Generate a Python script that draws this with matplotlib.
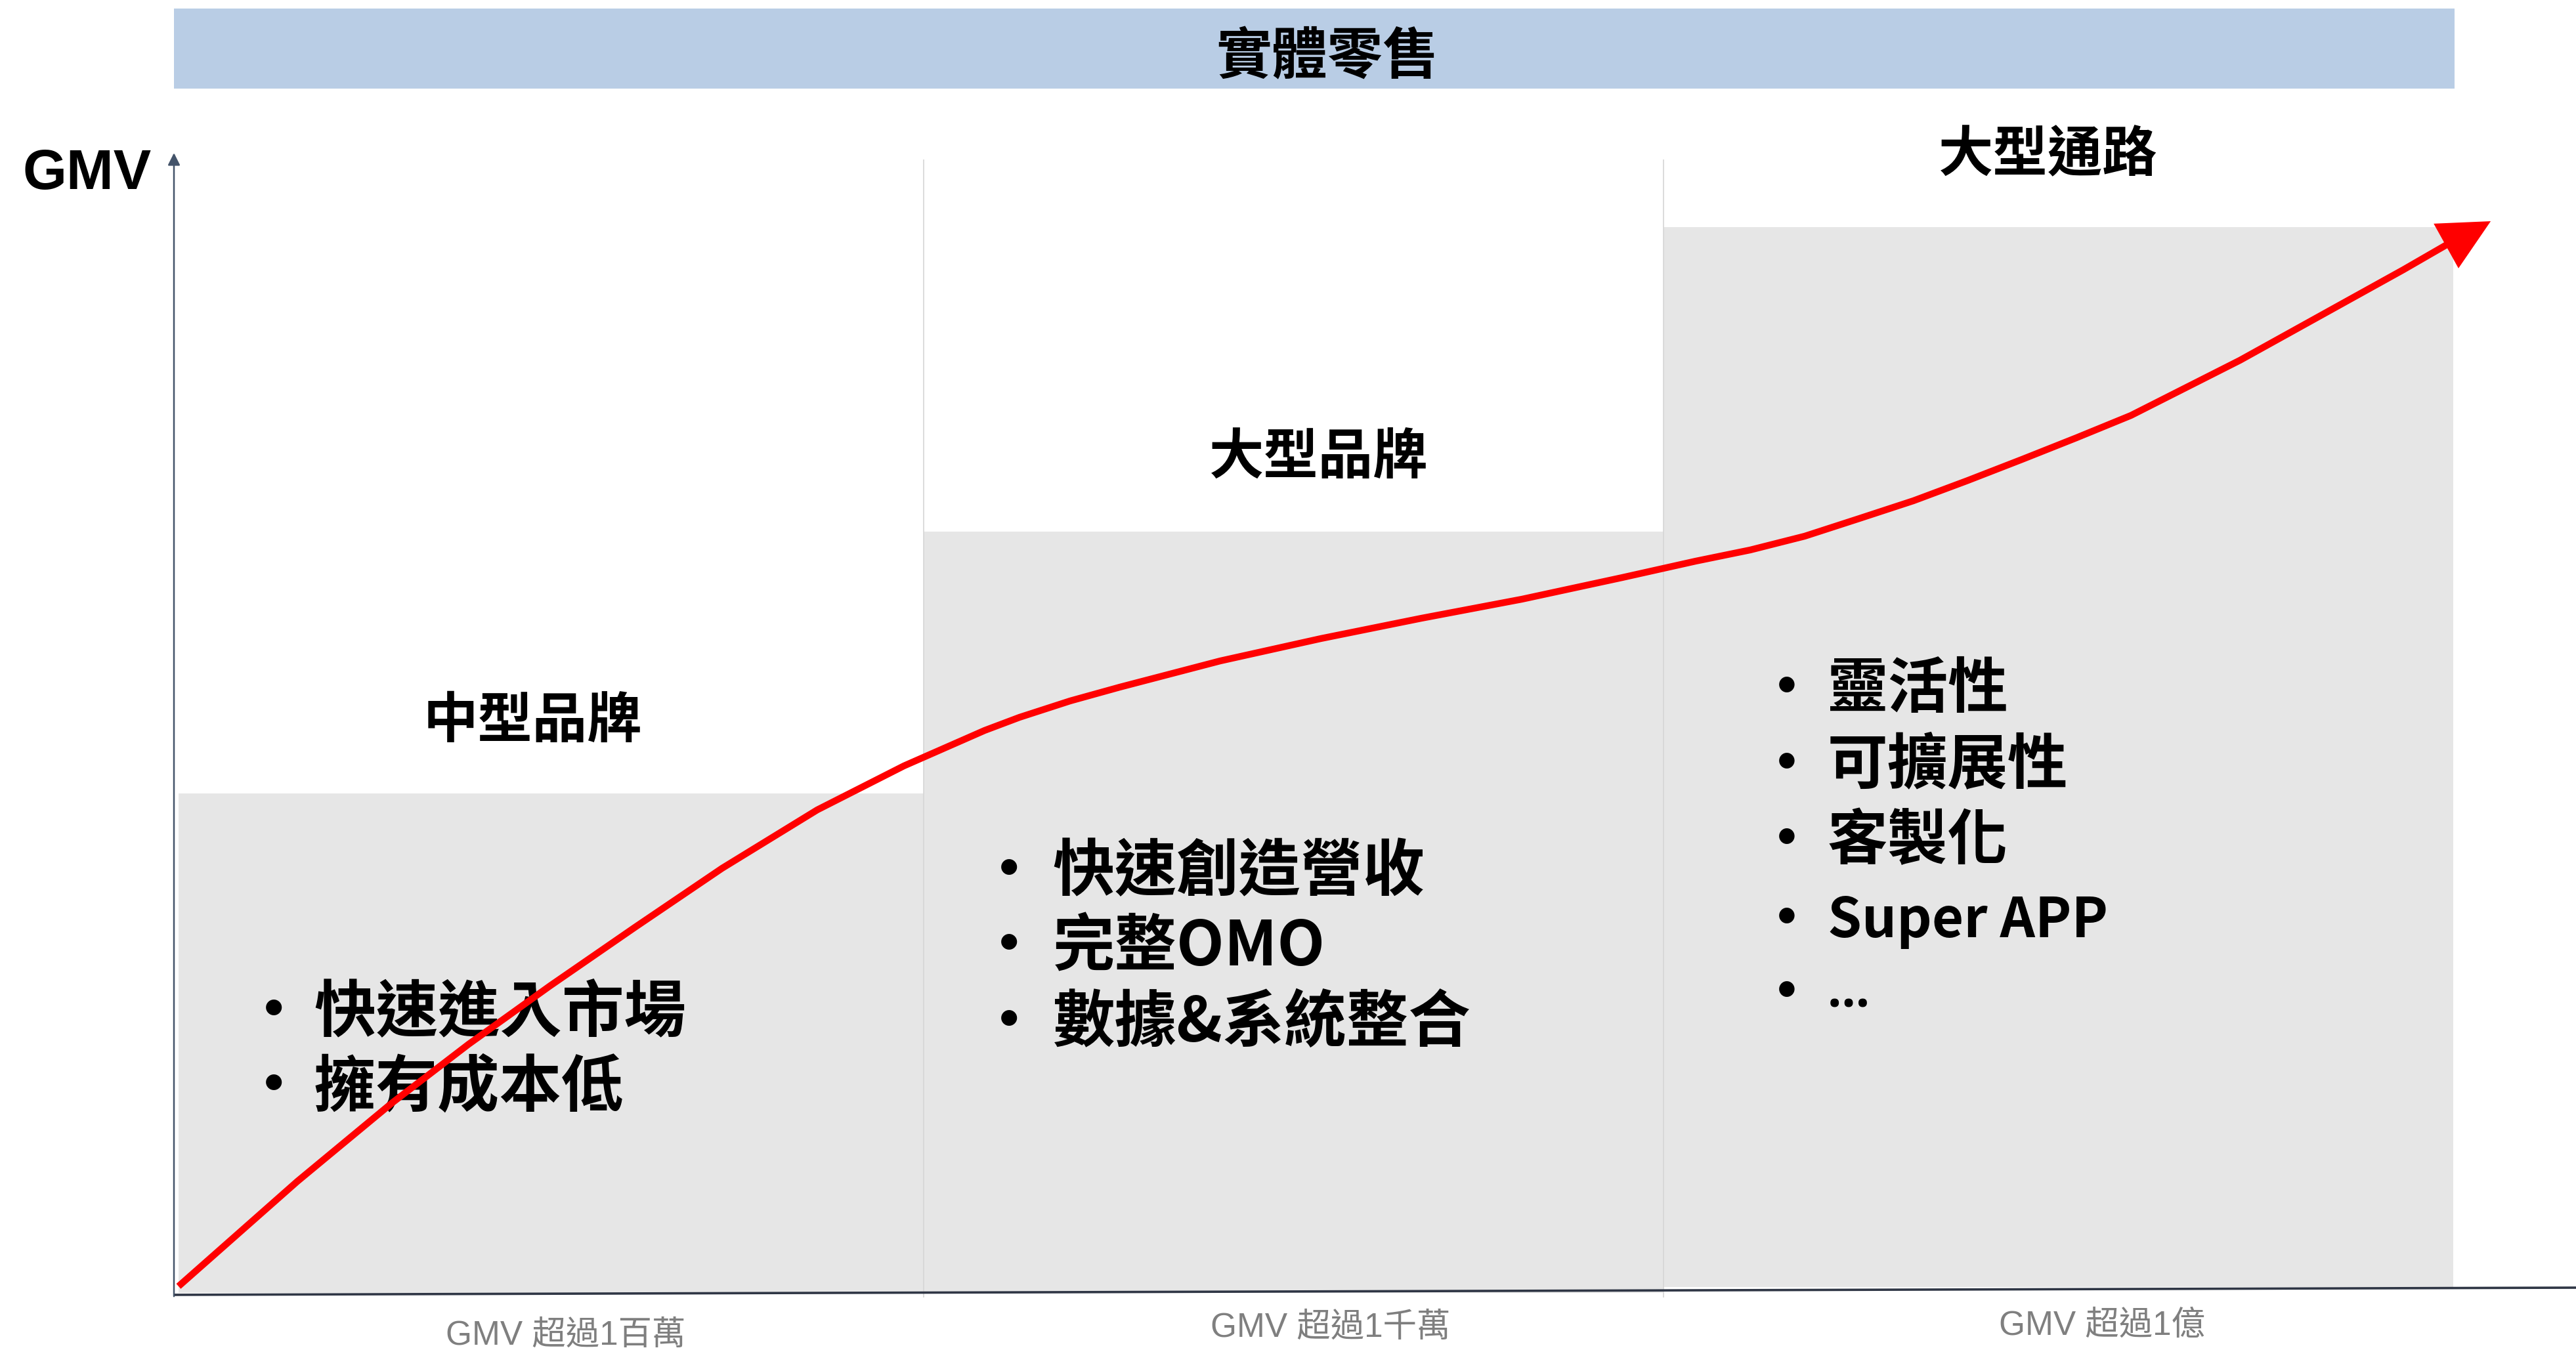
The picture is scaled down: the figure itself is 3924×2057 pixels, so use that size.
import matplotlib.pyplot as plt
from matplotlib.patches import Rectangle

plt.rcParams['font.family'] = ['Noto Sans CJK TC', 'DejaVu Sans']

# ---- data (x: % of axis width, y: GMV level in % of axis height) ----
banner_title = '實體零售'
stage_names = ['中型品牌', '大型品牌', '大型通路']
stage_labels = ['GMV 超過1百萬', 'GMV 超過1千萬', 'GMV 超過1億']
stage_edges = [0.2, 31.2, 62.0, 94.9]
stage_heights = [43.8, 66.8, 93.5]
stage_points = [
    ['快速進入市場', '擁有成本低'],
    ['快速創造營收', '完整OMO', '數據&系統整合'],
    ['靈活性', '可擴展性', '客製化', 'Super APP', '…'],
]

# growth curve, last point is the arrow tip
curve_x = [0.19, 5.14, 9.10, 12.27, 15.66, 19.19, 22.82, 26.78, 30.39,
           33.75, 35.20, 37.31, 39.38, 43.56, 47.75, 51.93, 56.11, 60.29,
           63.35, 65.62, 67.89, 70.16, 72.42, 74.67, 76.93, 79.20, 81.47,
           83.74, 86.01, 88.28, 90.54, 92.81, 94.61, 96.45]
curve_y = [0.58, 9.79, 16.70, 21.82, 26.94, 32.07, 37.25, 42.37, 46.23,
           49.34, 50.49, 51.93, 53.14, 55.44, 57.40, 59.18, 60.85, 62.75,
           64.19, 65.17, 66.38, 67.93, 69.49, 71.26, 73.11, 75.01, 76.97,
           79.39, 81.81, 84.46, 87.10, 89.75, 91.94, 94.01]

# ---- layout ----
PX_X, PX_Y = 36.59, 17.37          # pixels per data unit
name_pos = [(14.92, 50.6), (47.66, 73.69), (78.03, 100.29)]
label_pos = [(16.32, -3.45), (48.16, -2.76), (80.27, -2.59)]
bullet_x = [4.15, 34.76, 67.15]
text_x = [5.82, 36.59, 68.84]
line_y = [[25.1, 18.54], [37.42, 30.86, 24.18],
          [53.43, 46.75, 40.13, 33.16, 26.71]]
bullet_size = [68, 68, 66]


def drop(size, k=0.1):
    # shift the anchor so the glyph ink is centred on the target y
    return k * size * 100 / 72 / PX_Y


fig = plt.figure(figsize=(39.24, 20.57), dpi=100)
ax = fig.add_axes([0, 0, 1, 1])
ax.set_xlim(-265 / PX_X, 100)
ax.set_ylim(-87 / PX_Y, 1970 / PX_Y)
ax.axis('off')

# banner
ax.add_patch(Rectangle((0, 105.64), 94.94, 7.03, fc='#B9CDE5', ec='none'))
ax.text(48.0, 108.9 - drop(61), banner_title, ha='center', va='center',
        fontsize=61, fontweight='bold')

# stage blocks
bottoms = [0, 0, 0.5]
for i, h in enumerate(stage_heights):
    ax.add_patch(Rectangle((stage_edges[i], bottoms[i]),
                           stage_edges[i + 1] - stage_edges[i], h - bottoms[i],
                           fc='#E6E6E6', ec='none', zorder=1))
ax.vlines(stage_edges[1:3], -0.4, 99.4, color='#D6D6D6', lw=1.2, zorder=2)

# axes
ax.plot([0, 100], [-0.17, 0.46], color='#2F3645', lw=2.6, zorder=3,
        solid_capstyle='butt')
ax.annotate('', xy=(0, 100), xytext=(0, -0.3),
            arrowprops=dict(arrowstyle='-|>', color='#44546A', lw=1.8,
                            mutation_scale=28, shrinkA=0, shrinkB=0), zorder=3)
ax.text(-3.63, 98.56 - drop(62, 0.09), 'GMV', ha='center', va='center',
        fontsize=62, fontweight='bold', family=['Liberation Sans', 'DejaVu Sans'])

# growth curve
ax.plot(curve_x[:-1], curve_y[:-1], color='#FF0000', lw=7.4, zorder=5,
        solid_joinstyle='round', solid_capstyle='butt')
ax.annotate('', xy=(curve_x[-1], curve_y[-1]), xytext=(curve_x[-4], curve_y[-4]),
            arrowprops=dict(arrowstyle='-|>,head_length=0.4,head_width=0.2',
                            color='#FF0000', lw=0, mutation_scale=140,
                            shrinkA=0, shrinkB=0), zorder=6)

# stage titles and bottom labels
for name, (x, y) in zip(stage_names, name_pos):
    ax.text(x, y - drop(60), name, ha='center', va='center',
            fontsize=60, fontweight='bold', zorder=4)
for lab, (x, y) in zip(stage_labels, label_pos):
    ax.text(x, y - drop(37), lab, ha='center', va='center', fontsize=37,
            color='#7F7F7F', family=['Liberation Sans', 'Noto Sans CJK TC'])

# bullet lists
for col, items in enumerate(stage_points):
    fs = bullet_size[col]
    for item, y in zip(items, line_y[col]):
        ax.text(bullet_x[col], y - drop(fs), '•', ha='center', va='center',
                fontsize=fs, fontweight='bold', zorder=4)
        if item == '…':
            # latin ellipsis sits on the baseline, below the bullet
            ax.text(text_x[col], y - drop(fs), item, ha='left', va='center',
                    fontsize=54, fontweight='bold', zorder=4,
                    family=['Open Sans', 'DejaVu Sans'])
        elif item.isascii():
            ax.text(text_x[col], y - drop(fs), item, ha='left', va='center',
                    fontsize=60, fontweight='bold', zorder=4)
        else:
            ax.text(text_x[col], y - drop(fs), item, ha='left', va='center',
                    fontsize=fs, fontweight='bold', zorder=4)

fig.savefig('out.png', dpi=100)
